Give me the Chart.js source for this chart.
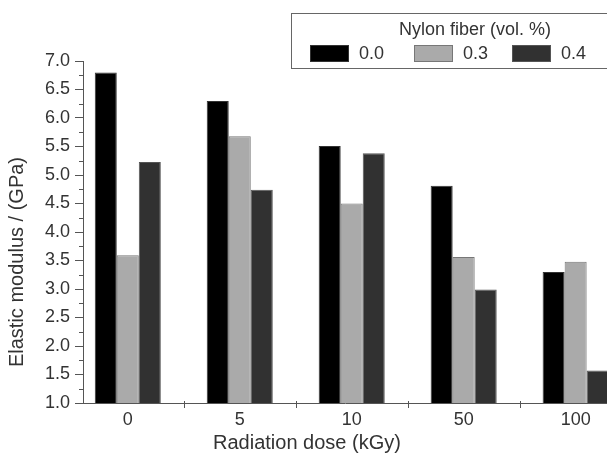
<!DOCTYPE html>
<html><head><meta charset="utf-8">
<script src="https://cdn.jsdelivr.net/npm/chart.js@4.4.1/dist/chart.umd.min.js"></script>
<style>html,body{margin:0;padding:0;background:#fff;overflow:hidden}#wrap{width:607px;height:455px;position:relative}canvas{display:block}</style>
</head><body><div id="wrap"><canvas id="c" width="607" height="455"></canvas></div>
<script>
const categories = ['0', '5', '10', '50', '100'];
const seriesLabels = ['0.0', '0.3', '0.4'];
const fiber00 = [6.80, 6.30, 5.51, 4.81, 3.30];
const fiber03 = [3.59, 5.68, 4.50, 3.56, 3.48];
const fiber04 = [5.23, 4.74, 5.38, 2.99, 1.57];
const yMin = 1.0, yMax = 7.0, yStep = 0.5;
const xTitle = 'Radiation dose (kGy)';
const yTitle = 'Elastic modulus / (GPa)';
const legendTitle = 'Nylon fiber (vol. %)';

const FONT = '"Liberation Sans", Arial, Helvetica, sans-serif';
const TXT = '#333333';
const AX = '#555555';

function toPoints(arr) { return arr.map((v, i) => ({ x: i, y: v })); }

const decor = {
  id: 'decor',
  afterDraw(chart) {
    const ctx = chart.ctx, xs = chart.scales.x, ys = chart.scales.y, a = chart.chartArea;
    ctx.save();
    ctx.strokeStyle = AX; ctx.lineWidth = 1;
    for (let v = yMin + yStep / 2; v < yMax; v += yStep) {
      const py = Math.round(ys.getPixelForValue(v)) + 0.5;
      ctx.beginPath(); ctx.moveTo(a.left - 4, py); ctx.lineTo(a.left, py); ctx.stroke();
    }
    for (let i = 0; i < categories.length; i++) {
      const px = Math.round(xs.getPixelForValue(i + 0.5)) + 0.5;
      if (px > a.right) continue;
      ctx.beginPath(); ctx.moveTo(px, a.bottom - 2); ctx.lineTo(px, a.bottom + 5); ctx.stroke();
    }
    ctx.fillStyle = TXT;
    ctx.font = '20px ' + FONT;
    ctx.textAlign = 'center'; ctx.textBaseline = 'middle';
    ctx.fillText(xTitle, xs.getPixelForValue(1.6), 443);
    ctx.save();
    ctx.translate(17, 262); ctx.rotate(-Math.PI / 2);
    ctx.fillText(yTitle, 0, 0);
    ctx.restore();
    // legend box
    ctx.fillStyle = '#fff';
    ctx.fillRect(291, 13, 340, 55);
    ctx.strokeStyle = '#666';
    ctx.strokeRect(291.5, 13.5, 340, 55);
    ctx.fillStyle = TXT;
    ctx.font = '18px ' + FONT;
    ctx.textAlign = 'center';
    ctx.fillText(legendTitle, 475, 30);
    const sx = [310, 414, 512];
    ctx.textAlign = 'left';
    chart.data.datasets.forEach((ds, i) => {
      ctx.fillStyle = ds.backgroundColor;
      ctx.fillRect(sx[i], 45, 39, 17);
      ctx.strokeStyle = ds.borderColor;
      ctx.strokeRect(sx[i] + 0.5, 45.5, 38, 16);
      ctx.fillStyle = TXT;
      ctx.fillText(ds.label, sx[i] + 49, 54);
    });
    ctx.restore();
  }
};

new Chart(document.getElementById('c'), {
  type: 'bar',
  data: {
    datasets: [
      { label: seriesLabels[0], data: toPoints(fiber00), backgroundColor: '#000000', borderColor: '#333333', borderWidth: 1 },
      { label: seriesLabels[1], data: toPoints(fiber03), backgroundColor: '#aaaaaa', borderColor: '#777777', borderWidth: 1 },
      { label: seriesLabels[2], data: toPoints(fiber04), backgroundColor: '#313131', borderColor: '#555555', borderWidth: 1 }
    ]
  },
  options: {
    responsive: false,
    animation: false,
    devicePixelRatio: 1,
    layout: { padding: { top: 61, left: 0, right: 0, bottom: 0 } },
    datasets: { bar: { barPercentage: 1.0, categoryPercentage: 0.59 } },
    plugins: { legend: { display: false }, tooltip: { enabled: false }, title: { display: false } },
    scales: {
      x: {
        type: 'linear',
        offset: false,
        min: -0.40, max: 4.28,
        grid: { display: false, drawTicks: false, offset: false },
        border: { display: true, color: AX, width: 1 },
        afterBuildTicks(s) { s.ticks = categories.map((c, i) => ({ value: i })); },
        afterFit(s) { s.height = 52; },
        ticks: {
          autoSkip: false, maxRotation: 0, padding: 6,
          color: TXT, font: { family: FONT, size: 18 },
          callback: (v) => categories[v] ?? ''
        }
      },
      y: {
        min: yMin, max: yMax,
        grid: { drawOnChartArea: false, drawTicks: true, tickLength: 8, tickColor: AX },
        border: { display: true, color: AX, width: 1 },
        afterFit(s) { s.width = 83; },
        ticks: {
          stepSize: yStep, padding: 5, autoSkip: false,
          color: TXT, font: { family: FONT, size: 18 },
          callback: (v) => Number(v).toFixed(1)
        }
      }
    }
  },
  plugins: [decor]
});
</script>
</body></html>
